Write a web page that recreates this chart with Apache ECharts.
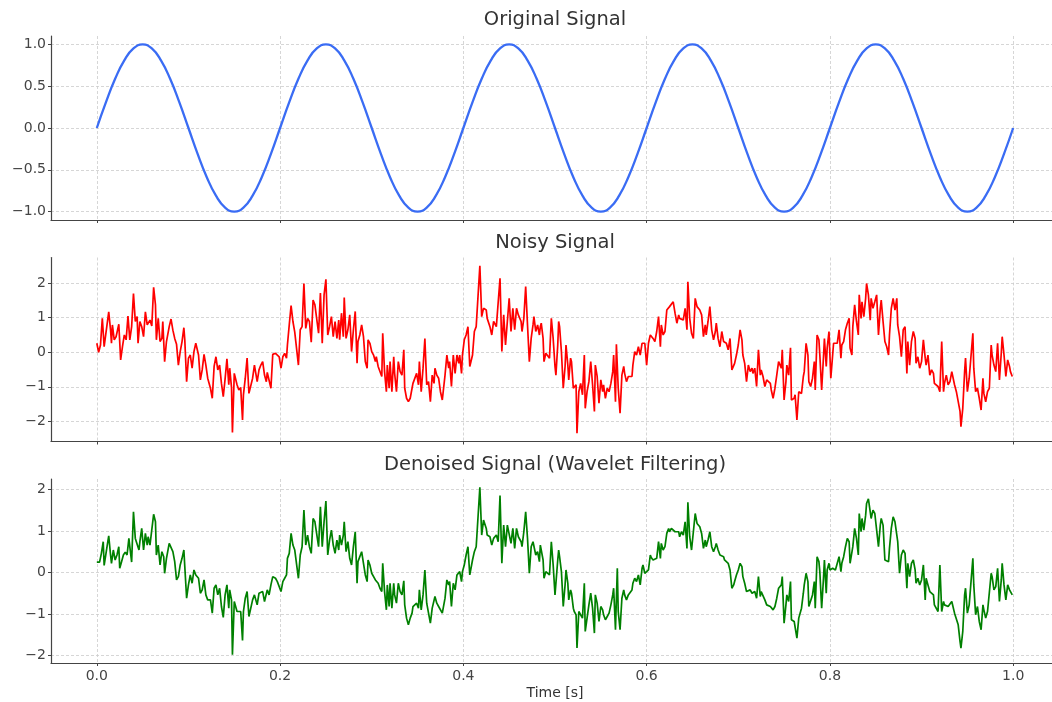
<!DOCTYPE html>
<html>
<head>
<meta charset="utf-8">
<script src="https://cdn.jsdelivr.net/npm/echarts@6/dist/echarts.min.js"></script>
<style>html,body{margin:0;padding:0;background:#fff;}#chart{width:1052px;height:702px;}</style>
</head>
<body>
<div id="chart"></div>
<script>
// time ticks shared by the three panels
const timeTicks = [0, 0.2, 0.4, 0.6, 0.8, 1.0];
const originalTicks = [-1, -0.5, 0, 0.5, 1];
const noisyTicks = [-2, -1, 0, 1, 2];
const denoisedTicks = [-2, -1, 0, 1, 2];
const titles = ['Original Signal', 'Noisy Signal', 'Denoised Signal (Wavelet Filtering)'];

// [time, amplitude]
const original = [
[0,0],[0.01,0.309],[0.02,0.588],[0.03,0.809],[0.04,0.951],[0.05,1],[0.06,0.951],[0.07,0.809],[0.08,0.588],[0.09,0.309],
[0.1,0],[0.11,-0.309],[0.12,-0.588],[0.13,-0.809],[0.14,-0.951],[0.15,-1],[0.16,-0.951],[0.17,-0.809],[0.18,-0.588],[0.19,-0.309],
[0.2,0],[0.21,0.309],[0.22,0.588],[0.23,0.809],[0.24,0.951],[0.25,1],[0.26,0.951],[0.27,0.809],[0.28,0.588],[0.29,0.309],
[0.3,0],[0.31,-0.309],[0.32,-0.588],[0.33,-0.809],[0.34,-0.951],[0.35,-1],[0.36,-0.951],[0.37,-0.809],[0.38,-0.588],[0.39,-0.309],
[0.4,0],[0.41,0.309],[0.42,0.588],[0.43,0.809],[0.44,0.951],[0.45,1],[0.46,0.951],[0.47,0.809],[0.48,0.588],[0.49,0.309],
[0.5,0],[0.51,-0.309],[0.52,-0.588],[0.53,-0.809],[0.54,-0.951],[0.55,-1],[0.56,-0.951],[0.57,-0.809],[0.58,-0.588],[0.59,-0.309],
[0.6,0],[0.61,0.309],[0.62,0.588],[0.63,0.809],[0.64,0.951],[0.65,1],[0.66,0.951],[0.67,0.809],[0.68,0.588],[0.69,0.309],
[0.7,0],[0.71,-0.309],[0.72,-0.588],[0.73,-0.809],[0.74,-0.951],[0.75,-1],[0.76,-0.951],[0.77,-0.809],[0.78,-0.588],[0.79,-0.309],
[0.8,0],[0.81,0.309],[0.82,0.588],[0.83,0.809],[0.84,0.951],[0.85,1],[0.86,0.951],[0.87,0.809],[0.88,0.588],[0.89,0.309],
[0.9,0],[0.91,-0.309],[0.92,-0.588],[0.93,-0.809],[0.94,-0.951],[0.95,-1],[0.96,-0.951],[0.97,-0.809],[0.98,-0.588],[0.99,-0.309],
[1.0,0]
];

const noisy = [
[0.000,0.26],[0.002,0.00],[0.004,0.21],[0.006,0.98],[0.008,0.16],[0.010,0.21],[0.013,1.17],[0.015,0.64],[0.016,0.26],[0.017,0.79],
[0.019,0.36],[0.021,0.45],[0.024,0.81],[0.026,-0.22],[0.028,0.16],[0.030,0.50],[0.032,0.36],[0.034,1.05],[0.036,0.36],[0.038,0.74],
[0.040,1.70],[0.042,0.89],[0.044,1.03],[0.045,0.26],[0.047,0.89],[0.049,0.74],[0.051,0.45],[0.053,1.17],[0.055,0.79],[0.056,0.77],
[0.058,0.93],[0.060,0.76],[0.062,1.88],[0.064,1.37],[0.065,0.36],[0.067,0.98],[0.069,0.31],[0.071,0.40],[0.072,0.89],[0.074,-0.27],
[0.076,0.31],[0.079,0.74],[0.081,0.96],[0.083,0.64],[0.085,0.40],[0.087,0.23],[0.089,-0.37],[0.091,0.02],[0.093,0.31],[0.095,0.71],
[0.096,0.36],[0.098,-0.85],[0.100,-0.17],[0.102,-0.08],[0.104,-0.46],[0.106,0.02],[0.108,0.26],[0.111,-0.08],[0.113,-0.80],[0.115,-0.51],
[0.117,-0.06],[0.119,-0.37],[0.121,-0.75],[0.124,-1.04],[0.126,-1.33],[0.128,-0.41],[0.130,-0.13],[0.132,-0.51],[0.134,-0.37],[0.136,-0.90],
[0.138,-1.28],[0.140,-0.77],[0.142,-0.19],[0.144,-0.94],[0.145,-0.46],[0.147,-1.02],[0.148,-2.32],[0.150,-0.61],[0.151,-0.56],[0.153,-0.94],
[0.155,-1.09],[0.157,-1.02],[0.159,-1.96],[0.160,-1.23],[0.162,-0.75],[0.164,-0.17],[0.166,-1.19],[0.168,-1.23],[0.170,-0.75],[0.172,-0.37],
[0.175,-0.85],[0.177,-0.51],[0.179,-0.37],[0.181,-0.27],[0.183,-0.66],[0.185,-0.85],[0.186,-0.58],[0.188,-0.56],[0.190,-1.04],[0.192,-0.06],
[0.195,-0.03],[0.197,-0.08],[0.199,-0.13],[0.201,-0.46],[0.203,-0.13],[0.205,-0.03],[0.207,-0.17],[0.208,0.21],[0.210,0.79],[0.212,1.35],
[0.214,0.89],[0.216,0.58],[0.218,0.60],[0.220,-0.37],
[0.222,0.65],[0.224,0.74],[0.226,1.99],[0.228,0.69],[0.230,0.98],[0.232,0.89],[0.234,0.29],[0.236,1.51],[0.238,1.37],[0.240,1.42],
[0.242,0.55],[0.244,1.71],[0.246,0.26],[0.248,1.66],[0.250,2.11],[0.252,0.50],[0.254,0.74],[0.256,1.03],[0.258,0.45],[0.260,0.89],
[0.262,0.40],[0.264,0.93],[0.265,0.36],[0.267,1.13],[0.269,0.45],[0.270,1.58],[0.272,0.40],[0.274,0.65],[0.276,1.08],[0.278,0.02],
[0.280,0.65],[0.282,1.18],[0.284,-0.32],[0.285,0.31],[0.287,0.50],[0.289,0.79],[0.291,0.45],[0.293,-0.27],[0.295,-0.46],[0.296,0.36],
[0.298,0.26],[0.300,0.02],[0.302,-0.08],[0.304,-0.27],[0.305,-0.13],[0.307,-0.41],[0.309,-0.46],[0.311,-0.70],[0.312,0.55],[0.314,-0.56],
[0.316,-1.14],[0.317,-0.37],[0.319,-1.04],[0.320,-0.27],[0.322,-1.14],[0.324,-0.13],[0.325,-0.61],[0.327,-1.14],[0.329,-0.27],[0.331,-0.56],
[0.333,-0.66],[0.335,0.07],[0.336,-1.04],[0.338,-1.33],[0.340,-1.43],[0.342,-1.33],[0.344,-1.04],[0.345,-0.90],[0.347,-0.85],[0.349,-0.61],
[0.351,-0.94],[0.352,-0.27],[0.354,-1.14],[0.356,-0.46],[0.358,0.40],[0.360,-0.94],[0.362,-0.85],[0.364,-1.43],[0.366,-0.66],[0.368,-0.90],
[0.369,-0.46],[0.371,-0.66],[0.373,-0.75],[0.375,-1.14],[0.377,-1.38],[0.380,-0.66],[0.382,-0.08],[0.384,-0.46],[0.385,-0.27],[0.387,-0.99],
[0.389,-0.08],[0.391,-0.61],[0.393,-0.08],[0.395,-0.32],[0.396,-0.08],[0.398,-0.61],[0.399,-0.08],[0.401,0.36],[0.403,0.50],[0.405,0.74],
[0.407,-0.41],[0.410,-0.08],[0.412,0.60],[0.414,0.74],[0.416,0.79],[0.418,2.50],[0.420,1.03],[0.422,1.27],[0.425,1.22],[0.426,0.98],
[0.429,0.74],[0.431,0.50],[0.433,0.89],[0.436,0.74],[0.438,0.79],[0.440,2.14],[0.442,0.02],[0.444,1.08],[0.446,0.21],[0.448,0.89],
[0.450,1.56],[0.452,0.60],[0.454,1.27],[0.456,0.65],[0.458,1.27],[0.460,1.08],[0.463,0.89],[0.464,0.60],[0.466,0.98],[0.468,1.90],
[0.470,0.79],[0.472,-0.27],[0.474,0.40],[0.476,0.79],[0.477,1.03],[0.479,0.60],[0.481,0.79],[0.483,0.50],
[0.484,0.74],[0.485,0.84],[0.487,0.40],[0.488,-0.27],[0.490,-0.03],[0.492,-0.08],[0.494,-0.17],[0.496,0.98],[0.498,0.40],[0.500,-0.41],
[0.501,-0.66],[0.503,0.21],[0.504,0.89],[0.505,0.74],[0.507,0.02],[0.509,-1.04],[0.511,-0.41],[0.512,0.21],[0.514,-0.37],[0.515,-0.80],
[0.517,-0.17],[0.518,-0.27],[0.520,-1.04],[0.521,-1.09],[0.523,-0.94],[0.524,-2.34],[0.526,-1.14],[0.528,-0.90],[0.530,-1.23],[0.532,-0.08],
[0.533,-1.62],[0.535,-1.14],[0.537,-0.85],[0.539,-0.27],[0.541,-0.94],[0.543,-1.71],[0.544,-0.37],[0.546,-0.70],[0.548,-1.47],[0.550,-0.80],
[0.552,-1.14],[0.553,-0.94],[0.555,-1.33],[0.557,-1.04],[0.559,-1.14],[0.561,-0.90],[0.563,-0.56],[0.564,-0.08],[0.566,-1.43],[0.567,0.23],
[0.569,-1.04],[0.571,-1.76],[0.573,-0.66],[0.575,-0.41],[0.576,-0.61],[0.578,-0.85],[0.580,-0.70],[0.582,-0.66],[0.584,-0.70],[0.585,-0.37],
[0.587,0.02],[0.589,-0.08],[0.591,0.16],[0.593,-0.08],[0.595,0.26],[0.596,0.31],[0.598,0.26],[0.600,-0.37],[0.602,0.26],[0.604,0.50],
[0.605,0.52],[0.607,0.40],[0.609,0.31],[0.611,0.60],[0.613,1.03],[0.615,0.16],[0.616,0.79],[0.618,0.50],[0.620,0.60],[0.622,1.22],
[0.624,1.18],[0.625,1.32],[0.627,1.37],[0.629,1.46],[0.631,1.13],[0.633,0.84],[0.635,1.08],[0.636,0.98],[0.638,1.03],[0.640,0.93],
[0.642,1.27],[0.644,0.65],[0.645,2.04],[0.647,0.98],[0.649,0.55],[0.651,0.40],[0.653,1.56],[0.655,1.32],[0.656,1.27],[0.658,1.22],
[0.660,1.08],[0.662,0.45],[0.664,0.79],[0.665,0.50],[0.667,0.89],[0.669,1.32],[0.671,0.65],[0.673,0.36],[0.675,0.60],[0.676,0.84],
[0.678,0.40],[0.680,0.16],[0.682,0.60],[0.684,0.31],[0.685,0.36],[0.687,0.26],[0.689,0.07],[0.691,0.40],[0.693,-0.51],[0.695,-0.56],
[0.696,-0.32],[0.698,-0.08],[0.700,0.21],[0.702,0.65],[0.704,0.36],[0.705,-0.08],[0.707,-0.32],[0.709,-0.85],[0.711,-0.37],[0.713,-0.56],
[0.715,-0.46],[0.716,-0.61],[0.718,-0.46],[0.720,-0.99],[0.722,0.07],[0.724,-0.66],[0.725,-0.51],[0.727,-0.70],[0.729,-0.99],[0.731,-0.80],
[0.733,-0.85],[0.735,-0.90],[0.736,-1.09],[0.738,-1.33],[0.740,-1.04],[0.742,-0.66],[0.744,-0.27],
[0.747,-0.46],[0.748,0.07],[0.750,-1.38],[0.752,-0.85],[0.753,-0.37],[0.755,-0.66],[0.757,0.13],[0.758,-1.38],[0.761,-1.33],[0.762,-1.23],
[0.764,-1.96],[0.766,-1.14],[0.768,-1.09],[0.769,-1.19],[0.771,-0.70],[0.772,-0.56],[0.774,0.26],[0.776,-0.08],[0.777,-0.85],[0.779,-0.99],
[0.781,-0.75],[0.783,-0.27],[0.784,-1.09],[0.786,0.50],[0.788,0.36],[0.789,-0.08],[0.791,-1.09],[0.793,-0.13],[0.794,0.40],[0.796,-0.41],
[0.797,0.12],[0.799,0.60],[0.800,-0.08],[0.801,-0.75],[0.803,-0.08],[0.804,0.26],[0.806,0.21],[0.808,0.26],[0.810,0.65],[0.812,-0.17],
[0.813,0.21],[0.815,0.31],[0.817,0.65],[0.819,0.84],[0.821,0.98],[0.822,0.12],[0.824,-0.08],[0.825,0.74],[0.827,1.37],[0.829,0.89],
[0.831,0.50],[0.832,1.66],[0.834,0.98],[0.835,1.46],[0.837,1.03],[0.839,1.56],[0.840,1.99],[0.842,1.66],[0.844,0.93],[0.845,1.56],
[0.847,1.27],[0.849,1.46],[0.851,1.66],[0.853,0.50],[0.855,1.27],[0.856,1.51],[0.858,0.89],[0.860,0.31],[0.862,0.16],[0.864,-0.08],
[0.865,0.50],[0.867,1.27],[0.869,1.56],[0.871,1.22],[0.873,1.56],[0.874,0.79],[0.876,0.45],[0.878,-0.13],[0.880,0.65],[0.882,0.74],
[0.884,-0.61],[0.885,0.31],[0.887,-0.37],[0.889,0.31],[0.891,0.60],[0.893,0.40],[0.894,-0.32],[0.896,-0.13],[0.898,-0.46],[0.900,-0.27],
[0.902,0.36],[0.904,-0.17],[0.905,-0.37],[0.907,-0.08],[0.909,-0.66],[0.911,-0.51],[0.913,-0.61],[0.914,-0.90],[0.916,-0.85],[0.918,-0.99],
[0.920,-1.14],[0.922,0.31],[0.924,-1.14],[0.925,-0.90],[0.927,-0.66],[0.929,-0.94],[0.931,-0.85],[0.933,-0.56],[0.935,-0.51],[0.936,-0.94],
[0.938,-1.14],[0.940,-1.14],[0.942,-1.71],[0.943,-2.15],[0.945,-1.62],[0.947,-0.56],[0.948,-0.17],[0.950,-1.14],[0.952,-0.75],[0.954,-0.75],
[0.956,0.55],[0.957,-0.46],[0.959,-1.14],[0.961,-1.04],[0.963,-1.33],[0.965,-1.67],[0.967,-0.75],[0.968,-1.19],[0.970,-1.43],[0.972,-1.14],
[0.974,-1.04],[0.976,0.21],[0.977,-0.08],[0.979,-0.37],[0.981,-0.56],[0.983,0.26],[0.985,-0.80],[0.987,-0.03],[0.988,0.45],[0.990,-0.08],
[0.992,-0.70],[0.994,-0.22],[0.996,-0.41],[0.997,-0.56],[0.999,-0.70]
];

const denoised = [
[0.000,0.25],[0.003,0.25],[0.005,0.46],[0.007,0.74],[0.008,0.17],[0.010,0.18],[0.012,0.74],[0.013,0.88],[0.015,0.42],[0.016,0.22],
[0.018,0.54],[0.020,0.30],[0.022,0.42],[0.024,0.62],[0.025,0.10],[0.027,0.26],[0.029,0.42],[0.031,0.49],[0.033,0.42],[0.035,0.82],
[0.036,0.62],[0.038,0.25],[0.040,1.46],[0.042,0.82],[0.044,0.78],[0.046,0.54],[0.047,0.74],[0.049,1.06],[0.051,0.54],[0.053,0.94],
[0.055,0.66],[0.056,0.86],[0.058,0.66],[0.060,0.70],[0.062,1.40],[0.064,1.22],[0.065,0.42],[0.067,0.66],[0.069,0.18],[0.071,0.50],
[0.073,0.38],[0.074,-0.02],[0.076,0.34],[0.079,0.70],[0.081,0.74],[0.083,0.50],[0.085,0.26],[0.087,-0.18],[0.089,-0.10],[0.091,0.18],
[0.093,0.34],[0.095,0.54],[0.096,0.14],[0.098,-0.62],[0.100,-0.30],[0.102,-0.06],[0.104,-0.26],[0.106,0.06],[0.108,-0.06],[0.111,-0.14],
[0.113,-0.50],[0.115,-0.42],[0.117,-0.18],[0.119,-0.54],[0.121,-0.66],[0.124,-0.66],[0.126,-0.98],[0.128,-0.38],[0.130,-0.30],[0.132,-0.54],
[0.134,-0.38],[0.136,-0.82],[0.138,-1.08],[0.140,-0.54],[0.142,-0.30],[0.144,-0.86],[0.145,-0.42],[0.147,-0.66],[0.148,-1.98],[0.150,-0.70],
[0.151,-0.66],[0.153,-0.94],[0.155,-0.94],[0.157,-0.94],[0.159,-1.64],[0.160,-0.94],[0.162,-0.62],[0.164,-0.46],[0.166,-1.06],[0.168,-1.10],
[0.170,-0.66],[0.172,-0.54],[0.175,-0.78],[0.177,-0.50],[0.179,-0.46],[0.181,-0.46],[0.183,-0.70],[0.185,-0.66],[0.186,-0.42],[0.188,-0.54],
[0.190,-0.30],[0.192,-0.10],[0.195,-0.14],[0.197,-0.22],[0.199,-0.18],[0.201,-0.46],[0.203,-0.22],[0.205,-0.14],[0.207,-0.06],[0.208,0.34],
[0.210,0.46],[0.212,0.94],[0.214,0.66],[0.216,0.54],[0.218,0.50],[0.220,-0.14],
[0.222,0.42],[0.224,0.62],[0.226,1.50],[0.228,0.66],[0.230,0.90],[0.232,0.62],[0.234,0.46],[0.236,1.30],[0.238,1.22],[0.240,1.22],
[0.242,0.62],[0.244,1.58],[0.246,0.62],[0.248,1.22],[0.250,1.72],[0.252,0.42],[0.254,0.78],[0.256,1.02],[0.258,0.66],[0.260,0.46],
[0.262,0.78],[0.264,0.54],[0.265,0.90],[0.267,0.66],[0.269,0.90],[0.270,1.22],[0.272,0.50],[0.274,0.74],[0.276,0.34],[0.278,0.18],
[0.280,0.62],[0.282,0.98],[0.284,-0.26],[0.285,0.26],[0.287,0.30],[0.289,0.50],[0.291,0.22],[0.293,-0.06],[0.295,-0.22],[0.296,0.30],
[0.298,0.18],[0.300,-0.02],[0.302,-0.02],[0.304,-0.18],[0.305,-0.14],[0.307,-0.26],[0.309,-0.38],[0.311,-0.46],[0.312,0.22],[0.314,-0.46],
[0.316,-0.90],[0.317,-0.30],[0.319,-0.82],[0.320,-0.26],[0.322,-0.86],[0.324,-0.26],[0.325,-0.54],[0.327,-0.74],[0.329,-0.26],[0.331,-0.46],
[0.333,-0.54],[0.335,-0.20],[0.336,-0.78],[0.338,-1.10],[0.340,-1.26],[0.342,-1.10],[0.344,-0.98],[0.345,-0.82],[0.347,-0.78],[0.349,-0.74],
[0.351,-0.86],[0.352,-0.42],[0.354,-0.90],[0.356,-0.54],[0.358,0.06],[0.360,-0.74],[0.362,-0.78],[0.364,-1.22],[0.366,-0.86],[0.368,-0.82],
[0.369,-0.58],[0.371,-0.74],[0.373,-0.82],[0.375,-0.86],[0.377,-0.98],[0.380,-0.62],[0.382,-0.18],[0.384,-0.30],[0.385,-0.22],[0.387,-0.82],
[0.389,-0.26],[0.391,-0.42],[0.393,-0.06],[0.395,-0.10],[0.396,0.02],[0.398,-0.22],[0.399,0.02],[0.401,0.18],[0.403,0.42],[0.405,0.62],
[0.407,-0.06],[0.410,0.30],[0.412,0.50],[0.414,0.62],[0.416,0.66],[0.418,2.05],[0.420,0.90],[0.422,1.26],[0.425,1.06],[0.426,0.90],
[0.429,0.86],[0.431,0.66],[0.433,0.82],[0.436,0.90],[0.438,0.74],[0.440,1.85],[0.442,0.22],[0.444,1.14],[0.446,0.62],[0.448,1.14],
[0.450,1.18],[0.452,0.70],[0.454,1.06],[0.456,0.58],[0.458,1.06],[0.460,0.86],[0.463,0.74],[0.464,0.62],[0.466,0.98],[0.468,1.46],
[0.470,0.82],[0.472,-0.02],[0.474,0.62],[0.476,0.74],[0.477,0.70],[0.479,0.42],[0.481,0.50],[0.483,0.26],
[0.484,0.66],[0.485,0.62],[0.487,0.30],[0.488,-0.14],[0.490,0.02],[0.492,-0.02],[0.494,-0.06],[0.496,0.74],[0.498,0.18],[0.500,-0.54],
[0.501,-0.50],[0.503,0.30],[0.504,0.54],[0.505,0.38],[0.507,0.02],[0.509,-0.82],[0.511,-0.30],[0.512,0.06],[0.514,-0.26],[0.515,-0.66],
[0.517,-0.42],[0.518,-0.50],[0.520,-0.86],[0.521,-0.94],[0.523,-1.02],[0.524,-1.82],[0.526,-0.94],[0.528,-0.90],[0.530,-1.10],[0.532,-0.26],
[0.533,-1.42],[0.535,-1.10],[0.537,-0.78],[0.539,-0.50],[0.541,-0.86],[0.543,-1.46],[0.544,-0.54],[0.546,-0.74],[0.548,-1.18],[0.550,-0.82],
[0.552,-0.90],[0.553,-1.02],[0.555,-1.14],[0.557,-1.06],[0.559,-0.98],[0.561,-0.78],[0.563,-0.54],[0.564,-0.38],[0.566,-1.38],[0.568,0.10],
[0.569,-0.94],[0.571,-1.38],[0.573,-0.62],[0.575,-0.42],[0.576,-0.54],[0.578,-0.66],[0.580,-0.54],[0.582,-0.50],[0.584,-0.42],[0.585,-0.26],
[0.587,-0.14],[0.589,-0.22],[0.591,-0.06],[0.593,-0.30],[0.595,0.10],[0.596,0.18],[0.598,-0.02],[0.600,-0.06],[0.602,0.06],[0.604,0.42],
[0.605,0.36],[0.607,0.30],[0.609,0.34],[0.611,0.34],[0.613,0.74],[0.615,0.34],[0.616,0.70],[0.618,0.54],[0.620,0.62],[0.622,0.94],
[0.624,1.06],[0.625,0.98],[0.627,1.06],[0.629,1.06],[0.631,0.98],[0.633,0.94],[0.635,0.98],[0.636,0.86],[0.638,0.98],[0.640,0.90],
[0.642,1.22],[0.644,0.58],[0.645,1.69],[0.647,0.86],[0.649,0.54],[0.651,0.50],[0.653,1.42],[0.655,1.18],[0.656,1.14],[0.658,1.10],
[0.660,0.94],[0.662,0.58],[0.664,0.78],[0.665,0.62],[0.667,0.78],[0.669,0.98],[0.671,0.62],[0.673,0.50],[0.675,0.62],[0.676,0.70],
[0.678,0.54],[0.680,0.42],[0.682,0.38],[0.684,0.38],[0.685,0.30],[0.687,0.30],[0.689,0.22],[0.691,0.06],[0.693,-0.38],[0.695,-0.30],
[0.696,-0.22],[0.698,-0.06],[0.700,0.06],[0.702,0.22],[0.704,0.14],[0.705,-0.10],[0.707,-0.26],[0.709,-0.46],[0.711,-0.42],[0.713,-0.42],
[0.715,-0.50],[0.716,-0.46],[0.718,-0.46],[0.720,-0.62],[0.722,-0.10],[0.724,-0.58],[0.725,-0.46],[0.727,-0.46],[0.729,-0.66],[0.731,-0.78],
[0.733,-0.82],[0.735,-0.82],[0.736,-0.86],[0.738,-0.90],[0.740,-0.82],[0.742,-0.62],[0.744,-0.38],
[0.747,-0.30],[0.748,-0.10],[0.750,-1.22],[0.752,-0.78],[0.753,-0.54],[0.755,-0.70],[0.757,-0.22],[0.758,-1.14],[0.761,-1.18],[0.762,-1.18],
[0.764,-1.58],[0.766,-1.10],[0.768,-1.06],[0.769,-0.86],[0.771,-0.50],[0.772,-0.30],[0.774,-0.02],[0.776,-0.22],[0.777,-0.82],[0.779,-0.82],
[0.781,-0.54],[0.783,-0.22],[0.784,-0.86],[0.786,0.38],[0.788,0.26],[0.789,0.02],[0.791,-0.86],[0.793,-0.14],[0.794,0.30],[0.796,-0.50],
[0.797,0.06],[0.799,0.22],[0.800,0.06],[0.801,0.10],[0.803,0.10],[0.804,0.10],[0.806,0.06],[0.808,0.10],[0.810,0.38],[0.812,0.02],
[0.813,0.22],[0.815,0.38],[0.817,0.62],[0.819,0.82],[0.821,0.74],[0.822,0.22],[0.824,0.18],[0.825,0.62],[0.827,1.06],[0.829,0.82],
[0.831,0.42],[0.832,1.42],[0.834,0.98],[0.835,1.30],[0.837,1.02],[0.839,1.38],[0.840,1.66],[0.842,1.77],[0.844,1.46],[0.845,1.30],
[0.847,1.50],[0.849,1.42],[0.851,1.46],[0.853,0.62],[0.855,1.14],[0.856,1.30],[0.858,1.14],[0.860,0.30],[0.862,0.26],[0.864,0.26],
[0.865,0.58],[0.867,1.06],[0.869,1.34],[0.871,1.22],[0.873,1.26],[0.874,0.74],[0.876,-0.02],[0.878,0.42],[0.880,0.54],[0.882,0.46],
[0.884,-0.38],[0.885,0.22],[0.887,-0.10],[0.889,0.22],[0.891,0.30],[0.893,0.06],[0.894,-0.26],[0.896,-0.14],[0.898,-0.30],[0.900,-0.18],
[0.902,0.18],[0.904,-0.66],[0.905,-0.14],[0.907,-0.30],[0.909,-0.46],[0.911,-0.42],[0.913,-0.54],[0.914,-0.78],[0.916,-0.74],[0.918,-0.94],
[0.920,0.18],[0.922,-0.94],[0.924,-0.70],[0.925,-0.78],[0.927,-0.74],[0.929,-0.82],[0.931,-0.82],[0.933,-0.70],[0.935,-0.66],[0.936,-0.98],
[0.938,-0.98],[0.940,-1.26],[0.942,-1.66],[0.943,-1.82],[0.945,-1.42],[0.947,-0.54],[0.948,-0.38],[0.950,-0.98],[0.952,-0.78],[0.954,-0.74],
[0.956,0.34],[0.957,-0.30],[0.959,-1.02],[0.961,-0.82],[0.963,-1.18],[0.965,-1.38],[0.967,-0.78],[0.968,-0.90],[0.970,-1.10],[0.972,-0.94],
[0.974,-0.90],[0.976,-0.02],[0.977,-0.10],[0.979,-0.42],[0.981,-0.34],[0.983,0.10],[0.985,-0.70],[0.987,-0.18],[0.988,0.22],[0.990,-0.30],
[0.992,-0.66],[0.994,-0.30],[0.996,-0.42],[0.997,-0.46],[0.999,-0.54]
];

const font = 'DejaVu Sans';
const minus = s => s.replace('-', '\u2212');

const chart = echarts.init(document.getElementById('chart'));

const panelTops = [36, 257.5, 479];
const panelHeight = 184;
const yRanges = [[-1.1, 1.1], [-2.58, 2.74], [-2.18, 2.25]];
const yTicks = [originalTicks, noisyTicks, denoisedTicks];
const yDigits = [1, 0, 0];
const titleTops = [5, 228, 450];
const colors = ['#3a6cf4', '#ff0000', '#008000'];
const widths = [2.3, 1.7, 1.7];
const seriesData = [original, noisy, denoised];

const gridLine = { show: true, lineStyle: { color: '#cccccc', type: [3, 2], width: 0.8 } };

chart.setOption({
  animation: false,
  backgroundColor: '#fff',
  title: titles.map((t, i) => ({
    text: t, left: 550, top: titleTops[i], textAlign: 'center',
    textStyle: { fontFamily: font, fontSize: 19.5, fontWeight: 'normal', color: '#333' }
  })),
  grid: panelTops.map(top => ({ left: 51, right: -7, top: top, height: panelHeight, outerBoundsMode: 'none', containLabel: false })),
  xAxis: panelTops.map((_, i) => ({
    type: 'value', gridIndex: i, min: -0.05, max: 1.05,
    name: i === 2 ? 'Time [s]' : '', nameLocation: 'middle', nameGap: 23,
    nameTextStyle: { fontFamily: font, fontSize: 14, color: '#333' },
    axisLine: { show: true, onZero: false, lineStyle: { color: '#444', width: 1.2 } },
    axisTick: { show: true, length: 3, customValues: timeTicks, lineStyle: { color: '#444' } },
    axisLabel: { show: i === 2, customValues: timeTicks, margin: 6, fontFamily: font, fontSize: 14, color: '#444',
      formatter: v => minus(v.toFixed(1)) },
    splitLine: gridLine
  })),
  yAxis: panelTops.map((_, i) => ({
    type: 'value', gridIndex: i, min: yRanges[i][0], max: yRanges[i][1],
    axisLine: { show: true, onZero: false, lineStyle: { color: '#444', width: 1.2 } },
    axisTick: { show: true, length: 3, customValues: yTicks[i], lineStyle: { color: '#444' } },
    axisLabel: { customValues: yTicks[i], margin: 5, fontFamily: font, fontSize: 14, color: '#444',
      formatter: v => minus(v.toFixed(yDigits[i])) },
    splitLine: gridLine
  })),
  series: seriesData.map((d, i) => ({
    type: 'line', xAxisIndex: i, yAxisIndex: i, data: d, showSymbol: false,
    smooth: i === 0, lineStyle: { color: colors[i], width: widths[i] }, itemStyle: { color: colors[i] }
  }))
});
</script>
</body>
</html>
